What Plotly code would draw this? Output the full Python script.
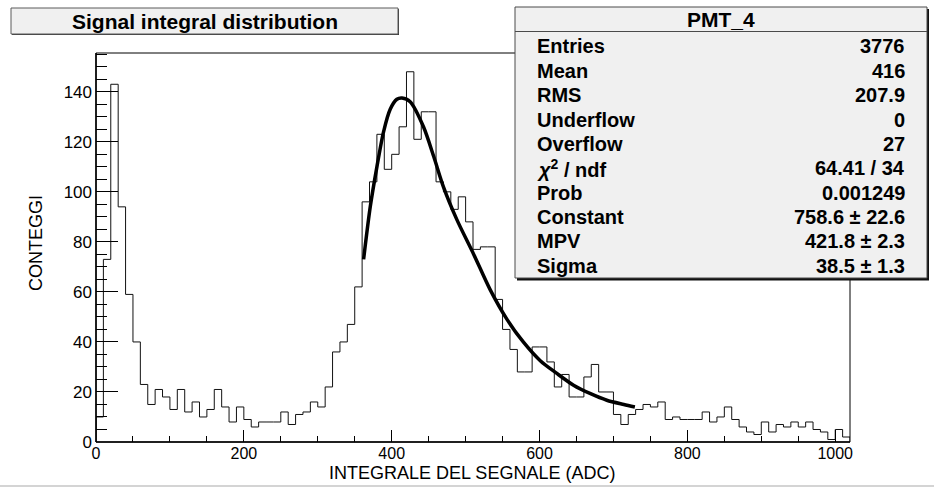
import plotly.graph_objects as go

# ---------------- data ----------------
bin_low = list(range(0, 1020, 10))          # lower edge of each 10-ADC bin
counts = [10, 73, 143, 94, 59, 40, 23, 15, 21, 18,
          13, 21, 12, 16, 10, 13, 21, 14, 8, 14,
          9, 6, 8, 8, 8, 12, 7, 11, 12, 16,
          14, 22, 36, 40, 47, 62, 96, 104, 123, 109,
          115, 126, 148, 121, 132, 132, 104, 100, 93, 98,
          88, 77, 78, 78, 57, 45, 37, 28, 28, 38,
          38, 32, 22, 27, 18, 18, 26, 31, 20, 20,
          11, 7, 11, 13, 15, 14, 16, 9, 10, 9,
          9, 9, 12, 8, 10, 14, 9, 6, 4, 3,
          8, 4, 7, 6, 8, 6, 8, 5, 4, 1,
          5, 2]
x_end = 1020

fit_adc = [362, 371, 380, 389, 398, 407, 414, 425, 443, 457, 470, 488,
           511, 533, 556, 578, 601, 623, 646, 669, 691, 714, 729]
fit_counts = [73, 94, 110, 124, 133, 137, 137.5, 136, 126, 114, 102, 89,
              75, 61, 49, 40, 32.5, 27.5, 22.7, 19.3, 16.7, 15, 14]

x_tick_step = 200
y_tick_step = 20
y_max = 155.5

title_text = "Signal integral distribution"
x_title = "INTEGRALE DEL SEGNALE (ADC)"
y_title = "CONTEGGI"
stats_title = "PMT_4"
stats_labels = ["Entries", "Mean", "RMS", "Underflow", "Overflow",
                "<i>χ</i><sup>2</sup> / ndf", "Prob", "Constant", "MPV", "Sigma"]
stats_values = ["3776", "416", "207.9", "0", "27", "64.41 / 34", "0.001249",
                "758.6 ± 22.6", "421.8 ± 2.3", "38.5 ± 1.3"]

# ---------------- layout helpers ----------------
W, H = 934, 489
L, R, T, B = 96, 850, 53, 442


def px(x):
    return (x - L) / (R - L)


def py(y):
    return (B - y) / (B - T)


FONT = "Liberation Sans"

# histogram outline
hx = [0] + bin_low + [x_end, x_end]
hy = [0] + counts + [counts[-1], 0]

fig = go.Figure()
fig.add_trace(go.Scatter(x=hx, y=hy, mode="lines", line=dict(color="#111111", width=1, shape="hv"),
                         hoverinfo="skip", showlegend=False))
fig.add_trace(go.Scatter(x=fit_adc, y=fit_counts, mode="lines",
                         line=dict(color="black", width=3.5, shape="spline", smoothing=0.8),
                         hoverinfo="skip", showlegend=False))

shapes = []
# frame
shapes.append(dict(type="rect", xref="paper", yref="paper", x0=0, x1=1, y0=0, y1=1,
                   line=dict(color="black", width=1), layer="above"))
# slightly heavier bottom / left axis lines
shapes.append(dict(type="line", xref="paper", yref="paper", x0=0, x1=1, y0=0, y1=0,
                   line=dict(color="black", width=1.5), layer="above"))
shapes.append(dict(type="line", xref="paper", yref="paper", x0=0, x1=0, y0=0, y1=1,
                   line=dict(color="black", width=1.5), layer="above"))
# title box
shapes.append(dict(type="rect", xref="paper", yref="paper", x0=px(12), x1=px(399), y0=py(35), y1=py(9),
                   fillcolor="#3a3a3a", line=dict(width=0), layer="above"))
shapes.append(dict(type="rect", xref="paper", yref="paper", x0=px(11), x1=px(398), y0=py(34), y1=py(8),
                   fillcolor="#f0f0f0", line=dict(color="#5a5a5a", width=1), layer="above"))
# stats box (shadow + box)
shapes.append(dict(type="rect", xref="paper", yref="paper", x0=px(517), x1=px(929), y0=py(280.5), y1=py(9),
                   fillcolor="#111111", line=dict(width=0), layer="above"))
shapes.append(dict(type="rect", xref="paper", yref="paper", x0=px(515), x1=px(927), y0=py(278), y1=py(7),
                   fillcolor="#f0f0f0", line=dict(color="#4a4a4a", width=1), layer="above"))
shapes.append(dict(type="line", xref="paper", yref="paper", x0=px(515), x1=px(927), y0=py(31.5), y1=py(31.5),
                   line=dict(color="#4a4a4a", width=1), layer="above"))
# canvas bottom border
shapes.append(dict(type="line", xref="paper", yref="paper", x0=px(0), x1=px(934), y0=py(486), y1=py(486),
                   line=dict(color="#d4d4d4", width=2), layer="above"))

ann = []
ann.append(dict(text="<b>" + title_text + "</b>", x=px(204.5), y=py(21.5), xref="paper", yref="paper",
                xanchor="center", yanchor="middle", showarrow=False,
                font=dict(family=FONT, size=21, color="black")))
ann.append(dict(text=x_title, x=px(472), y=py(473), xref="paper", yref="paper",
                xanchor="center", yanchor="middle", showarrow=False,
                font=dict(family=FONT, size=18, color="black")))
ann.append(dict(text=y_title, x=px(36), y=py(243), xref="paper", yref="paper", textangle=-90,
                xanchor="center", yanchor="middle", showarrow=False,
                font=dict(family=FONT, size=18, color="black")))
ann.append(dict(text="<b>" + stats_title + "</b>", x=px(721), y=py(19.5), xref="paper", yref="paper",
                xanchor="center", yanchor="middle", showarrow=False,
                font=dict(family=FONT, size=21, color="black")))
for i, (lab, val) in enumerate(zip(stats_labels, stats_values)):
    yy = 46.5 + i * 24.35
    ann.append(dict(text="<b>" + lab + "</b>", x=px(535), y=py(yy), xref="paper", yref="paper",
                    xanchor="left", yanchor="middle", showarrow=False,
                    font=dict(family=FONT, size=20, color="black")))
    ann.append(dict(text="<b>" + val + "</b>", x=px(907), y=py(yy), xref="paper", yref="paper",
                    xanchor="right", yanchor="middle", showarrow=False,
                    font=dict(family=FONT, size=20, color="black")))

fig.update_layout(
    width=W, height=H,
    margin=dict(l=L, r=W - R, t=T, b=H - B, pad=0),
    paper_bgcolor="white", plot_bgcolor="white",
    shapes=shapes, annotations=ann,
    xaxis=dict(range=[0, x_end], dtick=x_tick_step, tick0=0, ticks="inside", ticklen=12, tickwidth=1,
               tickcolor="black", showgrid=False, zeroline=False, showline=False,
               tickfont=dict(family=FONT, size=16, color="black"),
               minor=dict(dtick=50, tick0=0, ticks="inside", ticklen=6, tickcolor="black", tickwidth=1,
                          showgrid=False)),
    yaxis=dict(range=[0, y_max], dtick=y_tick_step, tick0=0, ticks="inside", ticklen=22, tickwidth=1,
               tickcolor="black", showgrid=False, zeroline=False, showline=False,
               ticklabelstandoff=3,
               tickfont=dict(family=FONT, size=17, color="black"),
               minor=dict(dtick=5, tick0=0, ticks="inside", ticklen=11, tickcolor="black", tickwidth=1,
                          showgrid=False)),
)

fig.write_html("out.html")
